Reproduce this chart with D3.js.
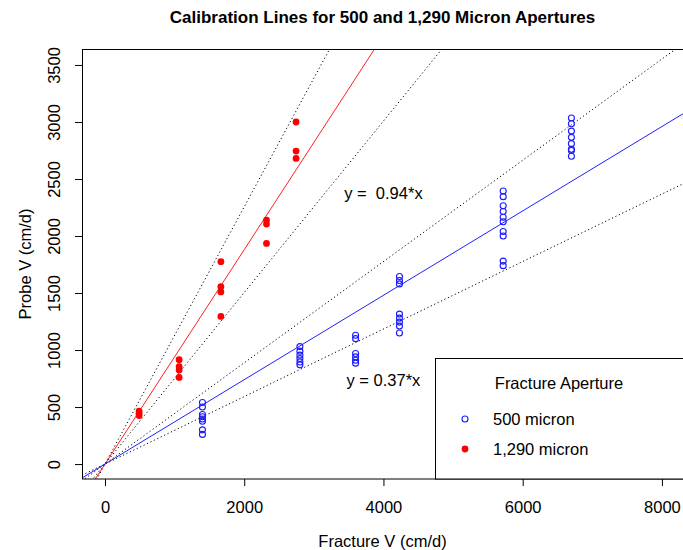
<!DOCTYPE html>
<html>
<head>
<meta charset="utf-8">
<script src="https://cdn.jsdelivr.net/npm/d3@7"></script>
<style>
  html, body { margin: 0; padding: 0; background: #fff; }
  svg { display: block; font-family: "Liberation Sans", Arial, sans-serif; }
  text { white-space: pre; }
</style>
</head>
<body>
<svg id="chart" width="683" height="550"></svg>
<script>
// Axis ticks
const xTicks = [0, 2000, 4000, 6000, 8000];
const yTicks = [0, 500, 1000, 1500, 2000, 2500, 3000, 3500];

// 500 micron aperture: fracture velocity levels and the probe readings at each
const fracture500 = [1400, 2800, 3600, 4230, 5720, 6700];
const probe500 = [
  [540, 500, 435, 415, 395, 375, 300, 260],
  [1030, 990, 955, 925, 895, 870],
  [1130, 1100, 970, 940, 910, 885],
  [1645, 1610, 1580, 1315, 1280, 1245, 1210, 1150],
  [2395, 2345, 2265, 2215, 2165, 2125, 2040, 2000, 1780, 1740],
  [3035, 2985, 2920, 2865, 2810, 2760, 2750, 2700]
];

// 1,290 micron aperture
const fracture1290 = [490, 1065, 1665, 2320, 2745];
const probe1290 = [
  [465, 445, 425],
  [915, 855, 825, 760],
  [1775, 1555, 1510, 1295],
  [2140, 2105, 1935],
  [3000, 2745, 2680]
];

// Fitted slopes (through the origin) and the +/-20% envelope
const slope500 = 0.37, band500 = [0.296, 0.444];
const slope1290 = 0.94, band1290 = [0.752, 1.128];

// Equation labels, centred at data coordinates
const eqLabels = [
  { text: "y =  0.94*x", x: 4000, y: 2375 },
  { text: "y = 0.37*x", x: 4000, y: 740 }
];

const legendTitle = "Fracture Aperture";
const legendItems = ["500 micron", "1,290 micron"];

const plot = { left: 82, right: 683.5, top: 49, bottom: 479 };

const svg = d3.select("#chart");

const x = d3.scaleLinear().domain([-330, 8310]).range([plot.left, plot.right]);
const y = d3.scaleLinear().domain([-131, 3640]).range([plot.bottom, plot.top]);

svg.append("defs").append("clipPath").attr("id", "plotClip")
  .append("rect")
  .attr("x", plot.left).attr("y", plot.top)
  .attr("width", plot.right - plot.left).attr("height", plot.bottom - plot.top);

// Title
svg.append("text")
  .attr("x", 382.5).attr("y", 23)
  .attr("text-anchor", "middle")
  .attr("font-size", "17px").attr("font-weight", "bold")
  .text("Calibration Lines for 500 and 1,290 Micron Apertures");

// Axes
const xAxis = d3.axisBottom(x).tickValues(xTicks).tickSize(7).tickPadding(0).tickFormat(d3.format("d"));
const gx = svg.append("g").attr("transform", `translate(0,${plot.bottom})`).call(xAxis);
gx.select(".domain").remove();
gx.selectAll("text").attr("font-size", "16.5px").attr("fill", "#000")
  .attr("font-family", "Liberation Sans, Arial, sans-serif")
  .attr("dy", null).attr("y", 34);

const yAxis = d3.axisLeft(y).tickValues(yTicks).tickSize(7).tickFormat(d3.format("d"));
const gy = svg.append("g").attr("transform", `translate(${plot.left},0)`).call(yAxis);
gy.select(".domain").remove();
gy.selectAll(".tick text")
  .attr("font-size", "16.5px").attr("fill", "#000")
  .attr("font-family", "Liberation Sans, Arial, sans-serif")
  .attr("x", null).attr("dy", null)
  .attr("text-anchor", "middle")
  .attr("transform", "translate(-22,0) rotate(-90)")
  .attr("y", 0);
svg.selectAll(".tick line").attr("stroke", "#000");

// Axis titles
svg.append("text")
  .attr("x", 382.5).attr("y", 547)
  .attr("text-anchor", "middle").attr("font-size", "16.5px")
  .text("Fracture V (cm/d)");
svg.append("text")
  .attr("transform", `translate(31,${(plot.top + plot.bottom) / 2}) rotate(-90)`)
  .attr("text-anchor", "middle").attr("font-size", "16.5px")
  .text("Probe V (cm/d)");

// Lines through the origin, clipped to the plot region
const lines = svg.append("g").attr("clip-path", "url(#plotClip)");
const xd = x.domain();
function originLine(k, color, dash) {
  lines.append("line")
    .attr("x1", x(xd[0])).attr("y1", y(k * xd[0]))
    .attr("x2", x(xd[1])).attr("y2", y(k * xd[1]))
    .attr("stroke", color).attr("stroke-width", 1)
    .attr("stroke-dasharray", dash || null);
}
band1290.forEach(k => originLine(k, "#000", "1.2,2.6"));
band500.forEach(k => originLine(k, "#000", "1.2,2.6"));
originLine(slope1290, "#ff2020");
originLine(slope500, "#2020ff");

// Points
const pts500 = fracture500.flatMap((fv, i) => probe500[i].map(pv => [fv, pv]));
const pts1290 = fracture1290.flatMap((fv, i) => probe1290[i].map(pv => [fv, pv]));

svg.append("g").selectAll("circle").data(pts500).join("circle")
  .attr("cx", d => x(d[0])).attr("cy", d => y(d[1])).attr("r", 3)
  .attr("fill", "none").attr("stroke", "#1a1aff").attr("stroke-width", 1.1);

svg.append("g").selectAll("circle").data(pts1290).join("circle")
  .attr("cx", d => x(d[0])).attr("cy", d => y(d[1])).attr("r", 3.4)
  .attr("fill", "#ff0000");

// Equation labels
svg.append("g").selectAll("text").data(eqLabels).join("text")
  .attr("x", d => x(d.x)).attr("y", d => y(d.y) + 6)
  .attr("text-anchor", "middle").attr("font-size", "16.5px")
  .text(d => d.text);

// Plot frame
svg.append("rect")
  .attr("x", plot.left + 0.5).attr("y", plot.top + 0.5)
  .attr("width", plot.right - plot.left - 0.5).attr("height", plot.bottom - plot.top - 0.5)
  .attr("fill", "none").attr("stroke", "#000").attr("stroke-width", 1);

// Legend (bottom-right)
const lg = svg.append("g");
lg.append("rect")
  .attr("x", 435.5).attr("y", 358.5)
  .attr("width", plot.right - 435.5).attr("height", plot.bottom - 358.5)
  .attr("fill", "#fff").attr("stroke", "#000");
lg.append("text").attr("x", 559).attr("y", 389)
  .attr("text-anchor", "middle").attr("font-size", "16.5px").text(legendTitle);
lg.append("circle").attr("cx", 465).attr("cy", 419).attr("r", 3)
  .attr("fill", "none").attr("stroke", "#1a1aff").attr("stroke-width", 1.1);
lg.append("circle").attr("cx", 465).attr("cy", 449).attr("r", 3.4).attr("fill", "#ff0000");
lg.selectAll("text.item").data(legendItems).join("text").attr("class", "item")
  .attr("x", 493).attr("y", (d, i) => 425 + i * 30)
  .attr("font-size", "16.5px").text(d => d);
</script>
</body>
</html>
